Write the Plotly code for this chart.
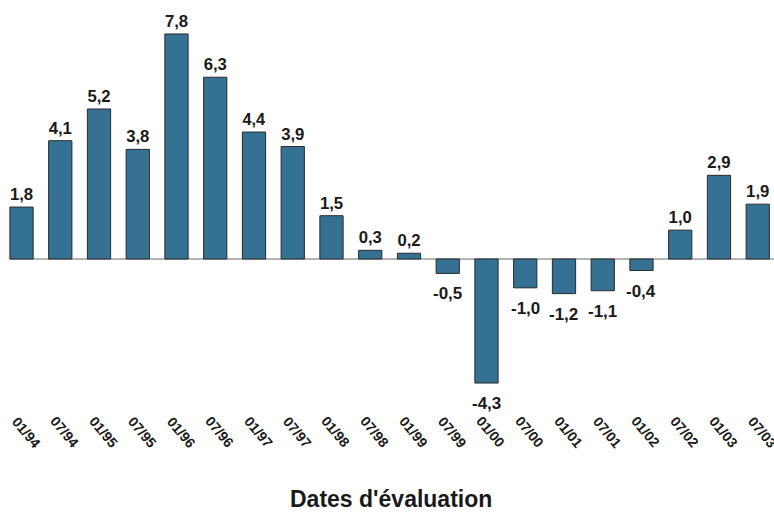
import plotly.graph_objects as go

# Evaluation dates and the change recorded at each date (%)
dates = ["01/94", "07/94", "01/95", "07/95", "01/96", "07/96", "01/97", "07/97",
         "01/98", "07/98", "01/99", "07/99", "01/00", "07/00", "01/01", "07/01",
         "01/02", "07/02", "01/03", "07/03"]
values = [1.8, 4.1, 5.2, 3.8, 7.8, 6.3, 4.4, 3.9, 1.5, 0.3, 0.2, -0.5, -4.3,
          -1.0, -1.2, -1.1, -0.4, 1.0, 2.9, 1.9]

FONT = "Liberation Sans, Arial, Helvetica, sans-serif"
BAR_COLOR = "#357192"

labels = [f"{v:.1f}".replace(".", ",") for v in values]
xs = list(range(len(dates)))

fig = go.Figure()
fig.add_trace(go.Bar(
    x=xs, y=values, width=0.6,
    marker=dict(color=BAR_COLOR, line=dict(color="#2a2a2a", width=1)),
    text=[f"<b>{t}</b>" if v >= 0 else "" for t, v in zip(labels, values)],
    textposition="outside", cliponaxis=False,
    textfont=dict(family=FONT, size=17, color="#1a1a1a"),
    hoverinfo="skip",
))

# zero baseline
fig.add_shape(type="line", xref="x", yref="y", x0=-0.3, x1=19.6, y0=0, y1=0,
              line=dict(color="#9a9a9a", width=1.5), layer="below")

# labels under the negative bars
for x, v, txt in zip(xs, values, labels):
    if v < 0:
        fig.add_annotation(
            x=x, y=v, xref="x", yref="y", text=f"<b>{txt}</b>", showarrow=False,
            xanchor="center", yanchor="top", yshift=-9,
            font=dict(family=FONT, size=17, color="#1a1a1a"),
        )

# rotated date labels
for x, d in zip(xs, dates):
    fig.add_annotation(
        x=x, y=1 - 432 / 512, xref="x", yref="paper", text=f"<b>{d}</b>",
        showarrow=False, textangle=50, xshift=4.5,
        xanchor="center", yanchor="middle",
        font=dict(family=FONT, size=14, color="#1a1a1a"),
    )

# axis title
fig.add_annotation(
    x=0.505, y=1 - 499 / 512, xref="paper", yref="paper",
    text="<b>Dates d'évaluation</b>", showarrow=False,
    xanchor="center", yanchor="middle",
    font=dict(family=FONT, size=23, color="#1a1a1a"),
)

fig.update_layout(
    width=774, height=512,
    margin=dict(l=0, r=0, t=0, b=0),
    paper_bgcolor="white", plot_bgcolor="white",
    showlegend=False, uniformtext=dict(mode=False),
    xaxis=dict(range=[-0.555, 19.42], visible=False),
    yaxis=dict(range=[-8.77, 8.977], visible=False),
)

fig.write_html("out.html")
